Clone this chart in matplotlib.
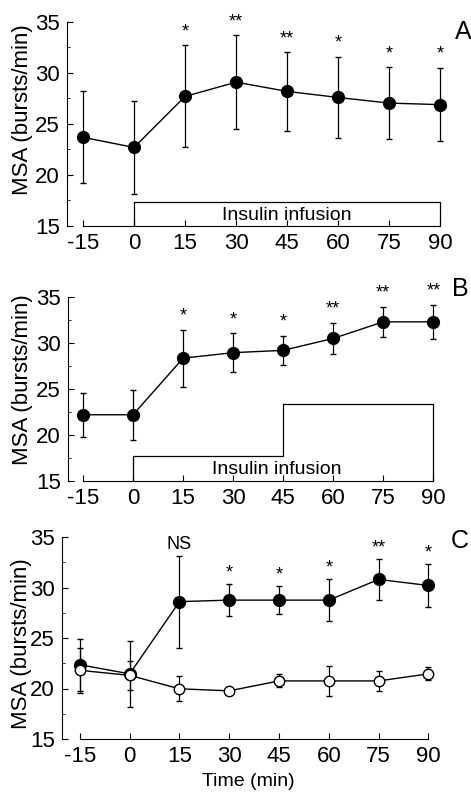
import matplotlib.pyplot as plt

plt.rcParams['font.family'] = ['Liberation Sans', 'DejaVu Sans']
plt.rcParams['axes.unicode_minus'] = False

# Tiempo (min)
tiempo = [-15, 0, 15, 30, 45, 60, 75, 90]

# Panel A
a_media = [23.7, 22.7, 27.7, 29.1, 28.2, 27.6, 27.05, 26.9]
a_sem = [4.5, 4.6, 5.0, 4.6, 3.85, 4.0, 3.5, 3.6]
a_sig = ["", "", "*", "**", "**", "*", "*", "*"]
a_infusion_x = [0, 0, 90, 90]
a_infusion_y = [15, 17.4, 17.4, 15]

# Panel B
b_media = [22.2, 22.2, 28.35, 28.95, 29.2, 30.5, 32.3, 32.3]
b_sem = [2.4, 2.7, 3.1, 2.1, 1.6, 1.7, 1.65, 1.85]
b_sig = ["", "", "*", "*", "*", "**", "**", "**"]
b_infusion_x = [0, 0, 45, 45, 90, 90]
b_infusion_y = [15, 17.7, 17.7, 23.4, 23.4, 15]

# Panel C (lleno y vacio)
c_media = [22.35, 21.45, 28.6, 28.75, 28.75, 28.75, 30.8, 30.2]
c_sem = [2.55, 3.25, 4.55, 1.55, 1.4, 2.05, 2.0, 2.1]
c_sig = ["", "", "NS", "*", "*", "*", "**", "*"]
o_media = [21.8, 21.3, 19.97, 19.77, 20.75, 20.75, 20.75, 21.45]
o_sem = [2.25, 1.4, 1.25, 0.15, 0.65, 1.45, 1.0, 0.65]

fig = plt.figure(figsize=(4.71, 7.95), dpi=100)
W, H = 471, 795


def eje(izq, der, arriba, abajo, xmin):
    ax = fig.add_axes([izq / W, 1 - abajo / H, (der - izq) / W, (abajo - arriba) / H])
    ax.set_xlim(xmin, 92)
    ax.set_ylim(15, 35)
    ax.spines['top'].set_visible(False)
    ax.spines['right'].set_visible(False)
    ax.spines['bottom'].set_bounds(-15, 90)
    ax.set_xticks(tiempo)
    ax.set_yticks([15, 20, 25, 30, 35])
    ax.set_yticks([17.5, 22.5, 27.5, 32.5], minor=True)
    ax.tick_params(direction='in', length=4, width=0.8, labelsize=16, pad=5)
    ax.tick_params(which='minor', direction='in', length=2, width=0.6)
    ax.set_ylabel("MSA (bursts/min)", fontsize=16)
    return ax


def serie(ax, media, sem, relleno="black", ms=8.5):
    ax.errorbar(tiempo, media, yerr=sem, color="black", lw=1.0, elinewidth=0.9,
                capsize=2.5, capthick=0.9, marker="o", ms=ms,
                mfc=relleno, mec="black", mew=1.0, zorder=3)


def estrellas(ax, media, sem, sig, off):
    for x, m, s, t in zip(tiempo, media, sem, sig):
        if t:
            ax.annotate(t, (x, m + s), xytext=(0, off), textcoords="offset pixels",
                        ha="center", va="baseline", fontsize=13,
                        annotation_clip=False)


# ---- A ----
axA = eje(67, 447, 22, 226, -19.7)
serie(axA, a_media, a_sem)
axA.plot(a_infusion_x, a_infusion_y, color="black", lw=0.9)
axA.text(45, 16.0, "Insulin infusion", ha="center", va="center", fontsize=14)
estrellas(axA, a_media, a_sem, a_sig, 9)
axA.yaxis.set_label_coords(-0.09, 0.57)
fig.text(463 / W, 1 - 32 / H, "A", ha="center", va="center", fontsize=18)

# ---- B ----
axB = eje(68, 440, 297, 481, -19.5)
serie(axB, b_media, b_sem)
axB.plot(b_infusion_x, b_infusion_y, color="black", lw=0.9)
axB.text(43, 16.3, "Insulin infusion", ha="center", va="center", fontsize=14)
estrellas(axB, b_media, b_sem, b_sig, 9)
axB.yaxis.set_label_coords(-0.095, 0.55)
fig.text(460 / W, 1 - 289 / H, "B", ha="center", va="center", fontsize=18)

# ---- C ----
axC = eje(62, 435, 537, 739, -20.4)
serie(axC, c_media, c_sem)
serie(axC, o_media, o_sem, relleno="white", ms=7.5)
estrellas(axC, c_media, c_sem, c_sig, 7)
axC.yaxis.set_label_coords(-0.08, 0.47)
axC.set_xlabel("Time (min)", fontsize=14, labelpad=4)
fig.text(460 / W, 1 - 541 / H, "C", ha="center", va="center", fontsize=18)

plt.savefig("out.png", dpi=100)
